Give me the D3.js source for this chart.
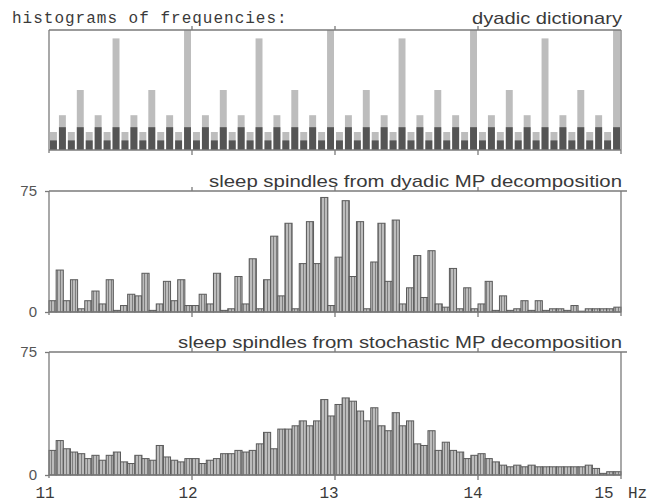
<!DOCTYPE html>
<html>
<head>
<meta charset="utf-8">
<script src="https://cdn.jsdelivr.net/npm/d3@7"></script>
<style>
  html, body { margin: 0; padding: 0; background: #fff; }
  svg { display: block; }
</style>
</head>
<body>
<svg class="figure"></svg>
<script>
// frequency axis, shared by the three panels
var hzTicks = [11, 12, 13, 14, 15];
var hzLabels = ['11', '12', '13', '14', '15'];
var countTicks = [0, 75];

// dyadic dictionary: 1/16 Hz bins, light = all atoms, dark = the finer scales
var dictBinWidth = 1 / 16;
var dictLight = [
  15, 29, 15, 50, 15, 29, 15, 93, 15, 29, 15, 50, 15, 29, 15, 100,
  15, 29, 15, 50, 15, 29, 15, 93, 15, 29, 15, 50, 15, 29, 15, 100,
  15, 29, 15, 50, 15, 29, 15, 93, 15, 29, 15, 50, 15, 29, 15, 100,
  15, 29, 15, 50, 15, 29, 15, 93, 15, 29, 15, 50, 15, 29, 15, 100
];
var dictDark = [
  8, 19, 8, 19, 8, 19, 8, 19, 8, 19, 8, 19, 8, 19, 8, 19,
  8, 19, 8, 19, 8, 19, 8, 19, 8, 19, 8, 19, 8, 19, 8, 19,
  8, 19, 8, 19, 8, 19, 8, 19, 8, 19, 8, 19, 8, 19, 8, 19,
  8, 19, 8, 19, 8, 19, 8, 19, 8, 19, 8, 19, 8, 19, 8, 19
];

// sleep spindles, 0.05 Hz bins from 11 to 15 Hz
var spindleBinWidth = 0.05;
var dyadicMP = [
  7, 26, 7, 20, 2, 7, 13, 5, 20, 1,
  4, 11, 10, 24, 1, 5, 19, 7, 20, 4,
  4, 11, 5, 24, 1, 2, 22, 5, 33, 2,
  20, 47, 10, 55, 2, 30, 56, 30, 71, 4,
  34, 69, 22, 56, 2, 31, 55, 19, 57, 5,
  15, 35, 9, 38, 5, 3, 27, 2, 15, 2,
  5, 19, 1, 10, 1, 2, 7, 1, 7, 1,
  2, 2, 1, 4, 0.5, 2, 2, 2, 2, 3
];
var stochasticMP = [
  15, 21, 16, 14, 13, 10, 12, 9, 12, 14,
  8, 7, 12, 10, 9, 18, 11, 9, 8, 10,
  10, 7, 9, 10, 13, 13, 15, 14, 15, 19,
  26, 16, 28, 28, 30, 33, 30, 33, 46, 36,
  43, 47, 45, 39, 33, 41, 30, 27, 38, 30,
  33, 19, 18, 27, 15, 20, 15, 14, 10, 12,
  13, 10, 8, 6, 5, 6, 5, 6, 5, 5,
  5, 5, 5, 5, 5, 6, 4, 1, 2, 2
];

var width = 650, height = 502;
var svg = d3.select('.figure')
  .attr('width', width)
  .attr('height', height)
  .attr('viewBox', '0 0 ' + width + ' ' + height);

var ink = '#3a3a3a', frame = '#7a7a7a';

// vertical hatching used by the spindle histograms
var defs = svg.append('defs');
var pat = defs.append('pattern')
  .attr('id', 'hatch')
  .attr('patternUnits', 'userSpaceOnUse')
  .attr('width', 3).attr('height', 4);
pat.append('rect').attr('width', 3).attr('height', 4).attr('fill', '#bcbcbc');
pat.append('rect').attr('x', 0).attr('width', 1).attr('height', 4).attr('fill', '#7e7e7e');

var x = d3.scaleLinear().domain([11, 15]).range([49, 621]);

// draws the frame around a panel: top rule, side lines, baseline, small ticks
function drawFrame(y, ext) {
  var g = svg.append('g').attr('fill', 'none').attr('stroke', frame).attr('stroke-width', 1.3);
  var y0 = y.range()[0], y1 = y.range()[1];
  g.append('line').attr('x1', x(11)).attr('x2', x(15) + ext).attr('y1', y1).attr('y2', y1);
  g.append('line').attr('x1', x(11)).attr('x2', x(15)).attr('y1', y0).attr('y2', y0);
  g.append('line').attr('x1', x(11)).attr('x2', x(11)).attr('y1', y1).attr('y2', y0 + 3);
  g.append('line').attr('x1', x(15)).attr('x2', x(15)).attr('y1', y1).attr('y2', y0 + 4);
  g.selectAll('.tb').data(hzTicks.slice(1, 4)).enter().append('line')
    .attr('x1', function(d) { return x(d); }).attr('x2', function(d) { return x(d); })
    .attr('y1', y0).attr('y2', y0 + 5);
  g.selectAll('.tt').data(hzTicks.slice(1, 4)).enter().append('line')
    .attr('x1', function(d) { return x(d); }).attr('x2', function(d) { return x(d); })
    .attr('y1', y1).attr('y2', y1 - 4);
  return g;
}

function drawCountAxis(y) {
  var axis = d3.axisLeft(y).tickValues(countTicks).tickSize(4).tickPadding(8);
  var g = svg.append('g')
    .attr('transform', 'translate(' + x(11) + ',0)')
    .call(axis);
  g.select('.domain').remove();
  g.selectAll('line').attr('stroke', frame).attr('stroke-width', 1.3);
  g.selectAll('text')
    .attr('fill', '#555')
    .style('font-family', '"Liberation Sans", Arial, sans-serif')
    .style('font-size', '15px');
}

function title(txt, yPos, len) {
  svg.append('text')
    .attr('x', 622).attr('y', yPos)
    .attr('text-anchor', 'end')
    .attr('textLength', len)
    .attr('lengthAdjust', 'spacingAndGlyphs')
    .attr('fill', ink)
    .style('font-family', '"Liberation Sans", Arial, sans-serif')
    .style('font-size', '17px')
    .text(txt);
}

// ---- top panel: dyadic dictionary
var yDict = d3.scaleLinear().domain([0, 100]).range([150, 30]);
var dw = x(11 + dictBinWidth) - x(11);

svg.append('g').selectAll('rect')
  .data(dictLight)
  .enter().append('rect')
  .attr('x', function(d, i) { return x(11 + i * dictBinWidth) + 1; })
  .attr('y', function(d) { return yDict(d); })
  .attr('width', dw - 2)
  .attr('height', function(d) { return yDict(0) - yDict(d); })
  .attr('fill', '#bdbdbd');

svg.append('g').selectAll('rect')
  .data(dictDark)
  .enter().append('rect')
  .attr('x', function(d, i) { return x(11 + i * dictBinWidth) + 1; })
  .attr('y', function(d) { return yDict(d); })
  .attr('width', dw - 2)
  .attr('height', function(d) { return yDict(0) - yDict(d); })
  .attr('fill', '#555');

drawFrame(yDict, 0);

svg.append('text')
  .attr('x', 12).attr('y', 23)
  .attr('fill', ink)
  .style('font-family', '"Liberation Mono", "DejaVu Sans Mono", monospace')
  .style('font-size', '16px')
  .style('letter-spacing', '1px')
  .text('histograms of frequencies:');

title('dyadic dictionary', 24, 150);

// ---- spindle panels
function spindlePanel(values, y, label, labelY, labelLen) {
  var bw = x(11 + spindleBinWidth) - x(11);
  svg.append('g').selectAll('rect')
    .data(values)
    .enter().append('rect')
    .attr('x', function(d, i) { return x(11 + i * spindleBinWidth); })
    .attr('y', function(d) { return y(d); })
    .attr('width', bw)
    .attr('height', function(d) { return y(0) - y(d); })
    .attr('fill', 'url(#hatch)')
    .attr('stroke', '#5a5a5a')
    .attr('stroke-width', 1);
  drawFrame(y, 6);
  drawCountAxis(y);
  title(label, labelY, labelLen);
}

var yDyadic = d3.scaleLinear().domain([0, 75]).range([312, 191]);
spindlePanel(dyadicMP, yDyadic, 'sleep spindles from dyadic MP decomposition', 187, 413);

var yStoch = d3.scaleLinear().domain([0, 75]).range([475, 352]);
spindlePanel(stochasticMP, yStoch, 'sleep spindles from stochastic MP decomposition', 348, 444);

// frequency labels under the bottom panel
var labelShift = [-4, -4, -6, -5, -17];
svg.append('g').selectAll('text')
  .data(hzTicks)
  .enter().append('text')
  .attr('x', function(d, i) { return x(d) + labelShift[i]; })
  .attr('y', 498)
  .attr('text-anchor', 'middle')
  .attr('fill', ink)
  .style('font-family', '"Liberation Mono", "DejaVu Sans Mono", monospace')
  .style('font-size', '16px')
  .text(function(d, i) { return hzLabels[i]; });

svg.append('text')
  .attr('x', 628).attr('y', 498)
  .attr('fill', ink)
  .style('font-family', '"Liberation Mono", "DejaVu Sans Mono", monospace')
  .style('font-size', '16px')
  .text('Hz');
</script>
</body>
</html>
